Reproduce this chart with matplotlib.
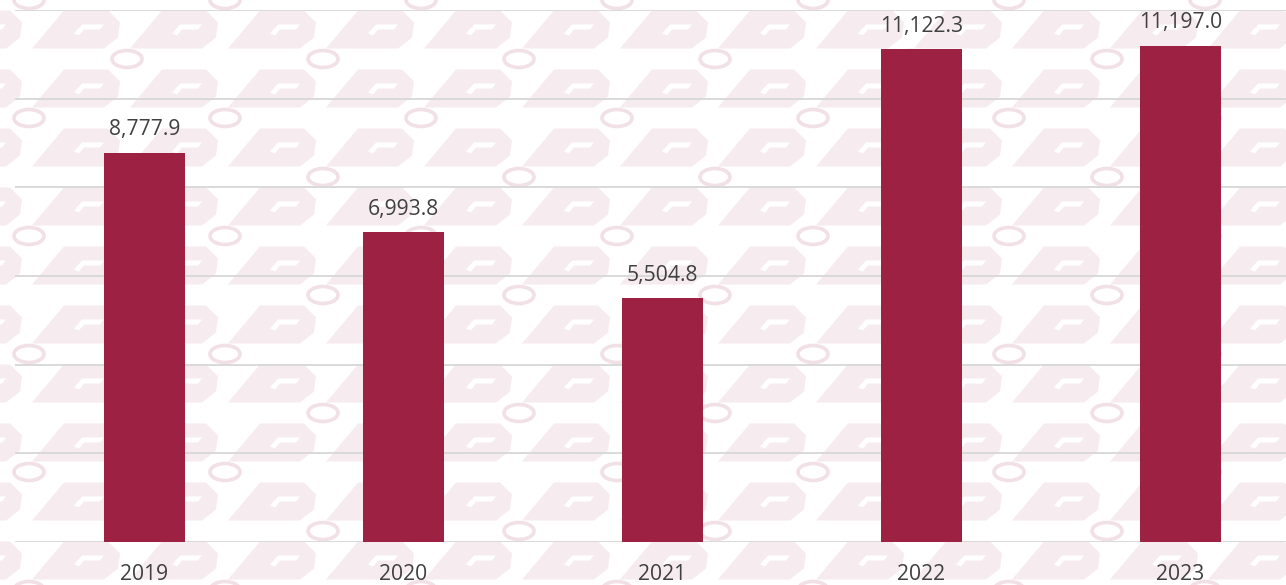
import matplotlib.pyplot as plt
import matplotlib.patches as mpatches
import numpy as np

##############################################################################
### Data ###
years = ['2019', '2020', '2021', '2022', '2023']
values = [8777.9, 6993.8, 5504.8, 11122.3, 11197.0]

bar_color = '#9d2142'
text_color = '#404040'
grid_color = '#d9d9d9'
blob_color = '#f6ebee'
ring_color = '#f1e0e5'

plt.rcParams['font.family'] = ['Open Sans', 'DejaVu Sans']

W, H = 1286, 585
fig = plt.figure(figsize=(W / 100, H / 100), dpi=100)

##############################################################################
### Background pattern (decorative, in pixel units) ###
bg = fig.add_axes([0, 0, 1, 1], zorder=0)
bg.set_xlim(0, W)
bg.set_ylim(H, 0)
bg.axis('off')

blob = np.array([(-46, 19), (-14, -19), (30, -19), (42, -7), (40, 8),
                 (26, 19)])
hook = np.array([(-4, 4), (4, -5), (26, -5), (22, 0), (6, 0), (1, 6)])
for i in range(-1, 15):
    for j in range(-2, 10):
        cx = 78 + 98 * i
        cy = 88.5 + 59 * j
        bg.add_patch(mpatches.Polygon(blob + [cx, cy], closed=True,
                                      facecolor=blob_color, edgecolor='none'))
        bg.add_patch(mpatches.Polygon(hook + [cx, cy], closed=True,
                                      facecolor='white', edgecolor='none'))

for i in range(-1, 15):
    for j in range(-3, 10):
        if (i + j) % 2:
            continue
        ox = 29 + 98 * i
        oy = 118 + 59 * j
        bg.add_patch(mpatches.Ellipse((ox, oy), 30, 17, facecolor='white',
                                      edgecolor=ring_color, linewidth=2.6))

##############################################################################
### Bars ###
ax = fig.add_axes([15 / W, 1 - 542 / H, 1 - 15 / W, (542 - 10) / H], zorder=1)
ax.patch.set_alpha(0)

x = np.arange(len(years))
ax.bar(x, values, width=0.313, color=bar_color, zorder=3)

ax.set_xlim(-0.5, 4.407)
ax.set_ylim(0, 12000)
ax.set_yticks(np.arange(0, 12001, 2000))
ax.yaxis.grid(True, color=grid_color, linewidth=1.4, zorder=0)
ax.set_axisbelow(True)
ax.tick_params(left=False, bottom=False, labelleft=False, labelbottom=False)
for s in ax.spines.values():
    s.set_visible(False)

for xi, v in zip(x, values):
    ax.annotate(f'{v:,.1f}', (xi, v), xytext=(0, 12.5), textcoords='offset points',
                ha='center', va='baseline', fontsize=15.2, color=text_color)

for xi, lab in zip(x, years):
    ax.annotate(lab, (xi, 0), xytext=(0, -27.5), textcoords='offset points',
                ha='center', va='baseline', fontsize=15.2, color=text_color,
                annotation_clip=False)

fig.savefig('out.png', dpi=100)
